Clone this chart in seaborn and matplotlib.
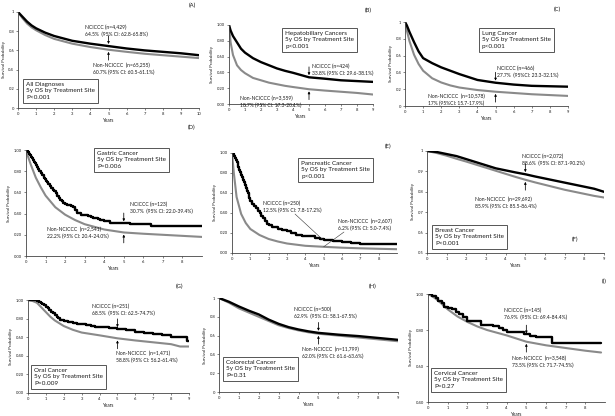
import numpy as np
import pandas as pd
import matplotlib
matplotlib.use("Agg")
import matplotlib.pyplot as plt
import seaborn as sns

W, H = 615, 416
sns.set_theme(style="ticks")
plt.rcParams['font.family'] = ['Lato', 'DejaVu Sans']

# ---------------- DATA ----------------
# (A) All diagnoses
A_t = [0, 0.25, 0.5, 0.75, 1, 1.5, 2, 2.5, 3, 4, 5, 6, 7, 8, 9, 10]
A_nc = [1.0, 0.95, 0.90, 0.86, 0.83, 0.785, 0.75, 0.725, 0.70, 0.67, 0.645, 0.62, 0.60, 0.585, 0.57, 0.55]
A_non = [1.0, 0.935, 0.88, 0.84, 0.81, 0.76, 0.72, 0.695, 0.67, 0.635, 0.607, 0.585, 0.565, 0.55, 0.535, 0.52]

# (B) Hepatobiliary
B_t = [0, 0.1, 0.25, 0.5, 0.75, 1, 1.5, 2, 2.5, 3, 3.5, 4, 5, 6, 7, 8, 9]
B_nc = [1.0, 0.93, 0.86, 0.78, 0.70, 0.65, 0.58, 0.53, 0.49, 0.45, 0.42, 0.395, 0.338, 0.32, 0.30, 0.29, 0.28]
B_non = [1.0, 0.78, 0.62, 0.49, 0.43, 0.39, 0.33, 0.30, 0.27, 0.25, 0.23, 0.215, 0.187, 0.17, 0.155, 0.14, 0.12]

# (C) Lung
C_t = [0, 0.1, 0.25, 0.5, 0.75, 1, 1.5, 2, 2.5, 3, 4, 5, 6, 7, 8, 9]
C_nc = [1.0, 0.96, 0.88, 0.76, 0.65, 0.57, 0.51, 0.46, 0.42, 0.38, 0.31, 0.277, 0.255, 0.24, 0.235, 0.23]
C_non = [1.0, 0.90, 0.77, 0.61, 0.50, 0.42, 0.33, 0.28, 0.245, 0.22, 0.19, 0.17, 0.155, 0.14, 0.13, 0.12]

# (D) Gastric
D_t_nc = [0, 0.05, 0.1, 0.15, 0.2, 0.25, 0.3, 0.35, 0.4, 0.45, 0.5, 0.55, 0.6, 0.68, 0.75, 0.82, 0.9, 0.95,
          1.0, 1.07, 1.15, 1.22, 1.3, 1.37, 1.45, 1.52, 1.6, 1.67, 1.75, 1.82, 1.9, 2.0, 2.1, 2.2, 2.3,
          2.4, 2.5, 2.6, 2.8, 3.0, 3.15, 3.3, 3.45, 3.6, 3.7, 3.8, 4.0, 4.3, 5.3, 6.4, 9.0]
D_nc = [1.0, 0.99, 0.98, 0.965, 0.95, 0.935, 0.92, 0.905, 0.89, 0.875, 0.86, 0.84, 0.82, 0.80, 0.78, 0.76,
        0.74, 0.725, 0.71, 0.695, 0.68, 0.66, 0.64, 0.625, 0.61, 0.59, 0.57, 0.55, 0.53, 0.515, 0.50, 0.49,
        0.485, 0.48, 0.47, 0.46, 0.43, 0.41, 0.39, 0.385, 0.375, 0.37, 0.36, 0.355, 0.345, 0.34, 0.33,
        0.307, 0.30, 0.28, 0.28]
D_t_non = [0, 0.1, 0.25, 0.5, 0.75, 1, 1.5, 2, 2.5, 3, 3.5, 4, 5, 6, 7, 8, 9]
D_non = [1.0, 0.94, 0.86, 0.74, 0.65, 0.57, 0.46, 0.39, 0.34, 0.30, 0.275, 0.25, 0.222, 0.21, 0.20, 0.19, 0.18]

# (E) Pancreatic
E_t_nc = [0, 0.05, 0.1, 0.15, 0.2, 0.25, 0.3, 0.35, 0.4, 0.45, 0.5, 0.55, 0.6, 0.65, 0.7, 0.75, 0.8, 0.85,
          0.9, 0.95, 1.0, 1.1, 1.2, 1.3, 1.4, 1.5, 1.6, 1.7, 1.8, 1.9, 2.0, 2.2, 2.5, 2.7, 3.0, 3.2, 3.5,
          3.8, 4.2, 4.5, 4.8, 5.0, 5.5, 6.0, 6.5, 7.0, 9.0]
E_nc = [1.0, 0.985, 0.97, 0.95, 0.93, 0.905, 0.88, 0.855, 0.83, 0.805, 0.78, 0.755, 0.73, 0.705, 0.68, 0.65,
        0.62, 0.595, 0.57, 0.545, 0.52, 0.49, 0.47, 0.445, 0.42, 0.40, 0.37, 0.345, 0.32, 0.29, 0.28, 0.26,
        0.24, 0.23, 0.22, 0.20, 0.18, 0.17, 0.165, 0.15, 0.135, 0.125, 0.115, 0.105, 0.095, 0.09, 0.085]
E_t_non = [0, 0.1, 0.25, 0.5, 0.75, 1, 1.5, 2, 2.5, 3, 4, 5, 6, 7, 8, 9]
E_non = [1.0, 0.80, 0.56, 0.39, 0.30, 0.24, 0.18, 0.14, 0.115, 0.095, 0.072, 0.062, 0.053, 0.047, 0.042, 0.038]

# (F) Breast
F_t = [0, 0.5, 1, 1.5, 2, 2.5, 3, 3.5, 4, 4.5, 5, 5.5, 6, 6.5, 7, 7.5, 8, 8.5, 9]
F_nc = [1.0, 0.995, 0.985, 0.975, 0.96, 0.945, 0.93, 0.915, 0.905, 0.895, 0.886, 0.875, 0.865, 0.855,
        0.845, 0.835, 0.825, 0.815, 0.80]
F_non = [1.0, 0.99, 0.977, 0.962, 0.948, 0.933, 0.918, 0.903, 0.888, 0.873, 0.859, 0.846, 0.834, 0.822,
         0.81, 0.80, 0.79, 0.78, 0.772]

# (G) Oral
G_t_nc = [0, 0.3, 0.5, 0.6, 0.7, 0.8, 0.9, 1.0, 1.1, 1.2, 1.3, 1.4, 1.5, 1.6, 1.7, 1.8, 1.9, 2.0, 2.25,
          2.5, 2.75, 3.0, 3.25, 3.5, 3.75, 4.0, 4.5, 5.0, 5.5, 6.0, 6.5, 7.0, 7.5, 8.0, 8.9, 9.0]
G_nc = [1.0, 1.0, 0.99, 0.98, 0.97, 0.96, 0.945, 0.93, 0.91, 0.89, 0.875, 0.86, 0.84, 0.82, 0.805, 0.79,
        0.78, 0.77, 0.76, 0.75, 0.745, 0.74, 0.73, 0.72, 0.715, 0.71, 0.70, 0.685, 0.675, 0.66, 0.65,
        0.635, 0.62, 0.60, 0.56, 0.56]
G_t_non = [0, 0.25, 0.5, 0.75, 1, 1.25, 1.5, 2, 2.5, 3, 3.5, 4, 5, 6, 7, 8, 8.5, 9]
G_non = [1.0, 0.99, 0.97, 0.92, 0.87, 0.82, 0.78, 0.72, 0.68, 0.65, 0.635, 0.62, 0.588, 0.565, 0.545,
         0.525, 0.50, 0.50]

# (H) Colorectal
H_t = [0, 0.5, 1, 1.5, 2, 2.5, 3, 3.5, 4, 4.5, 5, 6, 7, 8, 9]
H_nc = [1.0, 0.96, 0.91, 0.865, 0.825, 0.77, 0.725, 0.69, 0.665, 0.645, 0.629, 0.61, 0.595, 0.575, 0.555]
H_non = [1.0, 0.95, 0.89, 0.845, 0.80, 0.755, 0.71, 0.68, 0.655, 0.635, 0.62, 0.60, 0.58, 0.56, 0.54]

# (I) Cervical
I_t_nc = [0, 0.2, 0.4, 0.5, 0.7, 0.8, 1.0, 1.2, 1.4, 1.6, 1.8, 2.0, 2.7, 3.3, 3.6, 3.8, 4.0, 4.9, 5.2,
          5.5, 6.3, 8.8]
I_nc = [1.0, 0.99, 0.98, 0.96, 0.95, 0.93, 0.92, 0.915, 0.90, 0.89, 0.87, 0.85, 0.83, 0.82, 0.81, 0.80,
        0.79, 0.78, 0.769, 0.76, 0.73, 0.73]
I_t_non = [0, 0.25, 0.5, 0.75, 1, 1.5, 2, 2.5, 3, 3.5, 4, 5, 6, 7, 8, 8.8]
I_non = [1.0, 0.985, 0.965, 0.94, 0.915, 0.875, 0.845, 0.82, 0.80, 0.785, 0.77, 0.735, 0.715, 0.70,
         0.685, 0.675]

panel_ids = ["(A)", "(B)", "(C)", "(D)", "(E)", "(F)", "(G)", "(H)", "(I)"]
titles = ["All Diagnoses", "Hepatobiliary Cancers", "Lung Cancer", "Gastric Cancer",
          "Pancreatic Cancer", "Breast Cancer", "Oral Cancer", "Colorectal Cancer", "Cervical Cancer"]
subtitle = "5y OS by Treatment Site"
pvals = ["P<0.001", "p<0.001", "p<0.001", "P=0.006", "p<0.001", "P<0.001", "P=0.009", "P=0.31", "P=0.27"]
nc_labels = ["NCICCC (n=4,429)\n64.5%  (95% CI: 62.8-65.8%)",
             "NCICCC (n=424)\n33.8% (95% CI: 29.6-38.1%)",
             "NCICCC (n=466)\n27.7%  (95%CI: 23.3-32.1%)",
             "NCICCC (n=123)\n30.7%  (95% CI: 22.0-39.4%)",
             "NCICCC (n=250)\n12.5% (95% CI: 7.8-17.2%)",
             "NCICCC (n=2,072)\n88.6%  (95% CI: 87.1-90.2%)",
             "NCICCC (n=251)\n68.5%  (95% CI: 62.5-74.7%)",
             "NCICCC (n=500)\n62.9%  (95% CI: 58.1-67.5%)",
             "NCICCC (n=145)\n76.9%  (95% CI: 69.4-84.4%)"]
non_labels = ["Non-NCICCC  (n=65,255)\n60.7% (95% CI: 60.5-61.1%)",
              "Non-NCICCC (n=3,559)\n18.7% (95% CI: 17.3-20.1%)",
              "Non-NCICCC  (n=10,578)\n17% (95%CI: 15.7-17.9%)",
              "Non-NCICCC  (n=2,541)\n22.2% (95% CI: 20.4-24.0%)",
              "Non-NCICCC  (n=2,607)\n6.2% (95% CI: 5.0-7.4%)",
              "Non-NCICCC  (n=29,692)\n85.9% (95% CI: 85.5-86.4%)",
              "Non-NCICCC  (n=1,471)\n58.8% (95% CI: 56.2-61.4%)",
              "Non-NCICCC  (n=11,799)\n62.0% (95% CI: 61.6-63.6%)",
              "Non-NCICCC  (n=3,548)\n73.5% (95% CI: 71.7-74.5%)"]
nc_5y = [0.645, 0.338, 0.277, 0.307, 0.125, 0.886, 0.685, 0.629, 0.769]
non_5y = [0.607, 0.187, 0.17, 0.222, 0.062, 0.859, 0.588, 0.62, 0.735]

curves = [
    (A_t, A_nc, A_t, A_non, False),
    (B_t, B_nc, B_t, B_non, False),
    (C_t, C_nc, C_t, C_non, False),
    (D_t_nc, D_nc, D_t_non, D_non, True),
    (E_t_nc, E_nc, E_t_non, E_non, True),
    (F_t, F_nc, F_t, F_non, False),
    (G_t_nc, G_nc, G_t_non, G_non, True),
    (H_t, H_nc, H_t, H_non, False),
    (I_t_nc, I_nc, I_t_non, I_non, True),
]

# ---------------- LAYOUT ----------------
# axes rects in pixels: left, top, right, bottom
rects = [(18, 12, 199, 108), (229, 25, 373, 104), (405, 22, 568, 106),
         (26, 150, 202, 256), (232, 153, 397, 253), (427, 151, 604, 253),
         (28, 300, 189, 393), (219, 298, 398, 392), (428, 294, 605, 402)]
xmaxs = [10, 9, 9, 9, 9, 9, 9, 9, 9]
xtick_max = [10, 9, 9, 8, 8, 9, 9, 9, 8]
ylims = [(0, 1)] * 5 + [(0.5, 1), (0, 1), (0, 1), (0.4, 1)]
ysteps = [0.2, 0.2, 0.2, 0.2, 0.2, 0.1, 0.2, 0.2, 0.2]
yfmts = ['g', '.2f', 'g', '.2f', '.2f', 'g', '.2f', 'g', '.2f']
box_pos = [(23, 79), (282, 28), (479, 28), (94, 148), (298, 158), (432, 225), (31, 365), (223, 357), (431, 368)]
nc_pos = [(85, 25), (312, 64), (497, 66), (130, 202), (263, 201), (522, 154), (92, 304), (294, 307), (504, 308)]
non_pos = [(93, 63), (240, 96), (428, 94), (47, 227), (338, 219), (475, 197), (116, 351), (302, 347), (512, 356)]
id_pos = [(192, 5), (368, 10), (557, 9), (192, 127), (388, 146), (575, 239), (180, 286), (373, 286), (604, 281)]

GRAY = '#8a8a8a'
TXT = '#1a1a1a'
fig = plt.figure(figsize=(W / 100, H / 100), dpi=100)
fig.patch.set_facecolor('white')


def ftext(x, y, s, **kw):
    return fig.text(x / W, 1 - y / H, s, **kw)


for i in range(9):
    l, t, r, b = rects[i]
    ax = fig.add_axes([l / W, 1 - b / H, (r - l) / W, (b - t) / H])
    t_nc, s_nc, t_non, s_non, step = curves[i]
    df_non = pd.DataFrame({'Years': t_non, 'S': s_non})
    df_nc = pd.DataFrame({'Years': t_nc, 'S': s_nc})
    sns.lineplot(data=df_non, x='Years', y='S', ax=ax, color=GRAY, lw=1.5,
                 estimator=None, sort=False)
    sns.lineplot(data=df_nc, x='Years', y='S', ax=ax, color='black', lw=1.7,
                 estimator=None, sort=False,
                 drawstyle='steps-post' if step else 'default')
    ax.set_xlim(0, xmaxs[i])
    y0, y1 = ylims[i]
    ax.set_ylim(y0, y1)
    ax.set_xticks(range(0, xtick_max[i] + 1))
    yt = np.round(np.arange(y0, y1 + 1e-6, ysteps[i]), 2)
    ax.set_yticks(yt)
    ax.set_yticklabels([format(v, yfmts[i]) for v in yt])
    ax.set_xlabel("Years", fontsize=3.3, labelpad=1.5, color=TXT)
    ax.set_ylabel("Survival Probability", fontsize=3.2, labelpad=2, color=TXT)
    ax.tick_params(labelsize=3, length=1.5, width=0.4, pad=1.2, labelcolor=TXT)
    for sp in ['top', 'right']:
        ax.spines[sp].set_visible(False)
    for sp in ['left', 'bottom']:
        ax.spines[sp].set_linewidth(0.6)
        ax.spines[sp].set_color('#444444')

    # arrows
    arrow = dict(arrowstyle='-|>', lw=0.55, color='black', shrinkA=0, shrinkB=1.5, mutation_scale=3.2)
    if i == 4:
        line = dict(arrowstyle='-', lw=0.4, color='#333333', shrinkA=0, shrinkB=0)
        ax.annotate('', xy=(5, nc_5y[i]), xytext=(295, H - 214), textcoords='figure pixels', arrowprops=line)
        ax.annotate('', xy=(5, non_5y[i]), xytext=(344, H - 232), textcoords='figure pixels', arrowprops=line)
    else:
        ax.annotate('', xy=(5, nc_5y[i]), xytext=(0, 7.5), textcoords='offset points', arrowprops=arrow)
        ax.annotate('', xy=(5, non_5y[i]), xytext=(0, -7.5), textcoords='offset points', arrowprops=arrow)

    # box
    bx, by = box_pos[i]
    ftext(bx + 3, by + 3, f"{titles[i]}\n{subtitle}\n{pvals[i]}", fontsize=4.6, va='top', ha='left',
          linespacing=1.35, color=TXT,
          bbox=dict(boxstyle='square,pad=0.45', fc='white', ec='#555555', lw=0.7))
    # annotation texts
    ftext(*nc_pos[i], nc_labels[i], fontsize=3.6, va='top', ha='left', linespacing=1.3, color=TXT)
    ftext(*non_pos[i], non_labels[i], fontsize=3.6, va='top', ha='left', linespacing=1.3, color=TXT)
    ftext(*id_pos[i], panel_ids[i], fontsize=4.2, va='center', ha='center', color=TXT)

fig.savefig("out.png", dpi=100, facecolor='white')
